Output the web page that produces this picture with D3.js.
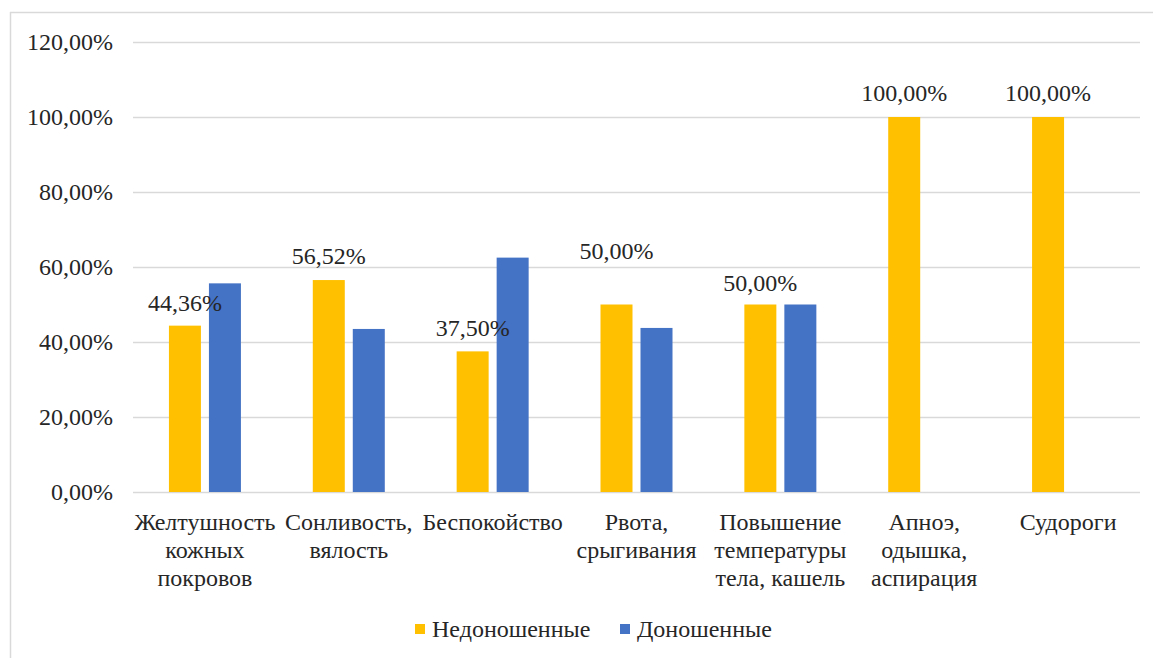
<!DOCTYPE html>
<html>
<head>
<meta charset="utf-8">
<script src="https://cdn.jsdelivr.net/npm/d3@7"></script>
<style>
  html, body { margin: 0; padding: 0; background: #fff; }
  svg { display: block; }
</style>
</head>
<body>
<svg id="chart" width="1153" height="658"></svg>
<script>
// ---- data ----
const categories = [
  ["Желтушность", "кожных", "покровов"],
  ["Сонливость,", "вялость"],
  ["Беспокойство"],
  ["Рвота,", "срыгивания"],
  ["Повышение", "температуры", "тела, кашель"],
  ["Апноэ,", "одышка,", "аспирация"],
  ["Судороги"]
];
const seriesNames = ["Недоношенные", "Доношенные"];
const preterm = [44.36, 56.52, 37.5, 50.0, 50.0, 100.0, 100.0];
const fullterm = [55.64, 43.48, 62.5, 43.75, 50.0, 0, 0];
const pretermLabels = ["44,36%", "56,52%", "37,50%", "50,00%", "50,00%", "100,00%", "100,00%"];
const yTicks = [0, 20, 40, 60, 80, 100, 120];
const yTickLabels = ["0,00%", "20,00%", "40,00%", "60,00%", "80,00%", "100,00%", "120,00%"];

// ---- style / layout ----
const FONT = "'Liberation Serif'";
const FS = 24;
const TXT = "#262626";
const colors = ["#FFC000", "#4472C4"];
const labelLift = [23, 24, 24, 54, 22, 24, 24]; // manual label offsets as in the original
const W = 1153, H = 658;
const plot = { left: 133, right: 1140, top: 42, bottom: 492 };

const svg = d3.select("#chart");

// frame (top and left edges visible)
svg.append("line").attr("x1", 10).attr("x2", W).attr("y1", 12.5).attr("y2", 12.5)
  .attr("stroke", "#d9d9d9").attr("stroke-width", 1.5);
svg.append("line").attr("x1", 10.5).attr("x2", 10.5).attr("y1", 12).attr("y2", H)
  .attr("stroke", "#d9d9d9").attr("stroke-width", 1.5);

const idx = d3.range(categories.length);
const x0 = d3.scaleBand().domain(idx).range([plot.left, plot.right]).padding(0);
const groupW = 72;
const x1 = d3.scaleBand().domain([0, 1]).range([0, groupW]).paddingInner(0.2).paddingOuter(0);
const y = d3.scaleLinear().domain([0, 120]).range([plot.bottom, plot.top]);

// gridlines + y labels
const yAxis = d3.axisLeft(y).tickValues(yTicks)
  .tickSize(-(plot.right - plot.left))
  .tickFormat((d, i) => yTickLabels[i]);
const gy = svg.append("g").attr("transform", `translate(${plot.left},0)`).call(yAxis);
gy.attr("font-family", null).attr("font-size", null);
gy.select(".domain").remove();
gy.selectAll(".tick line").attr("stroke", "#d9d9d9").attr("stroke-width", 1.5);
gy.selectAll(".tick text").attr("x", -20).attr("fill", TXT)
  .style("font-family", FONT).style("font-size", FS + "px");

// bars
const data = [preterm, fullterm];
data.forEach((vals, s) => {
  svg.append("g").selectAll("rect").data(vals).join("rect")
    .attr("x", (d, i) => x0(i) + x0.bandwidth() / 2 - groupW / 2 + x1(s))
    .attr("width", x1.bandwidth())
    .attr("y", d => y(d))
    .attr("height", d => y(0) - y(d))
    .attr("fill", colors[s]);
});

// data labels (preterm only)
svg.append("g").selectAll("text").data(preterm).join("text")
  .attr("x", (d, i) => x0(i) + x0.bandwidth() / 2 - groupW / 2 + x1(0) + x1.bandwidth() / 2)
  .attr("y", (d, i) => y(d) - labelLift[i])
  .attr("dy", "0.35em")
  .attr("text-anchor", "middle")
  .attr("fill", TXT).style("font-family", FONT).style("font-size", FS + "px")
  .text((d, i) => pretermLabels[i]);

// category labels
const cat = svg.append("g").selectAll("text").data(categories).join("text")
  .attr("x", (d, i) => x0(i) + x0.bandwidth() / 2)
  .attr("y", 522)
  .attr("text-anchor", "middle")
  .attr("fill", TXT).style("font-family", FONT).style("font-size", FS + "px");
cat.each(function(lines) {
  const t = d3.select(this);
  const cx = t.attr("x");
  lines.forEach((ln, k) => {
    t.append("tspan").attr("x", cx).attr("dy", k === 0 ? "0.35em" : 28).text(ln);
  });
});

// legend
const legendItems = [
  { name: seriesNames[0], color: colors[0], x: 415 },
  { name: seriesNames[1], color: colors[1], x: 620 }
];
const lg = svg.append("g").selectAll("g").data(legendItems).join("g")
  .attr("transform", d => `translate(${d.x},629)`);
lg.append("rect").attr("x", 0).attr("y", -5).attr("width", 10).attr("height", 10)
  .attr("fill", d => d.color);
lg.append("text").attr("x", 17).attr("dy", "0.35em")
  .attr("fill", TXT).style("font-family", FONT).style("font-size", FS + "px").text(d => d.name);
</script>
</body>
</html>
